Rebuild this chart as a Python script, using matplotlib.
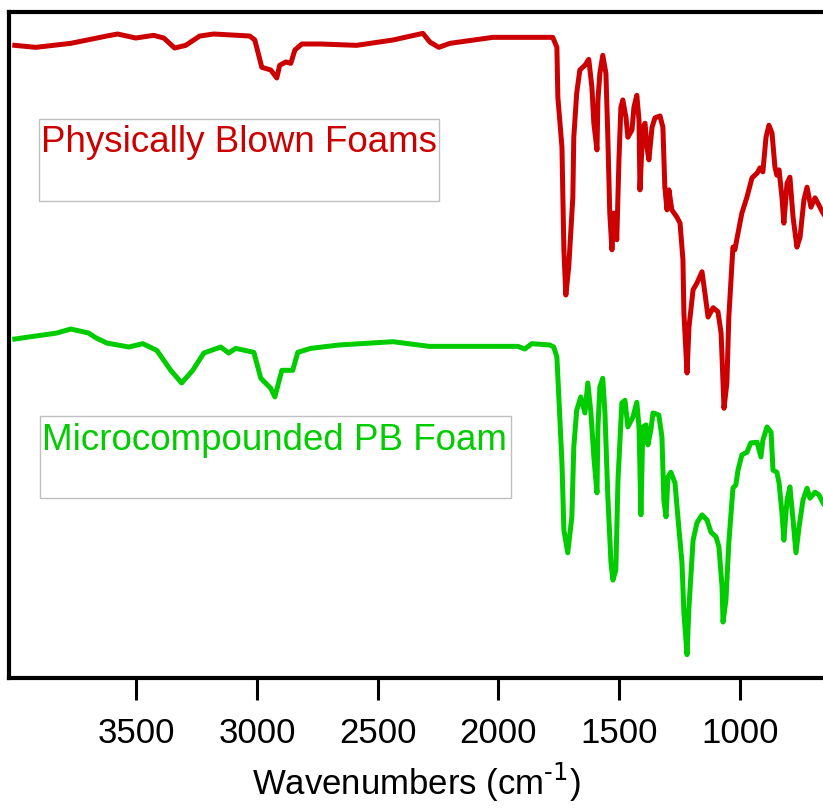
import matplotlib
matplotlib.use("Agg")
import matplotlib.pyplot as plt
from matplotlib.patches import Rectangle

plt.rcParams['font.family'] = ['Liberation Sans', 'DejaVu Sans']

# FTIR spectra, wavenumber (cm-1) vs transmittance (a.u., curves offset)
pb_wn = [4003, 3916, 3771, 3622, 3577, 3502, 3428, 3386, 3341, 3295, 3237, 3179,
         3030, 3009, 2980, 2943, 2918, 2906, 2881, 2860, 2843, 2814, 2736, 2587,
         2437, 2350, 2313, 2284, 2247, 2201, 2023, 1829, 1775, 1758, 1754, 1737,
         1733, 1729, 1721, 1709, 1692, 1688, 1676, 1663, 1642, 1626, 1613, 1605,
         1592, 1588, 1580, 1568, 1555, 1547, 1539, 1530, 1522, 1510, 1501, 1493,
         1485, 1472, 1464, 1447, 1439, 1427, 1418, 1414, 1402, 1393, 1385, 1377,
         1364, 1352, 1331, 1319, 1311, 1302, 1294, 1282, 1261, 1248, 1236, 1232,
         1219, 1211, 1194, 1178, 1157, 1145, 1132, 1111, 1091, 1078, 1070, 1066,
         1054, 1046, 1029, 1021, 1008, 992, 971, 950, 929, 917, 905, 892, 880, 867,
         855, 847, 838, 826, 818, 805, 793, 780, 764, 751, 735, 722, 706, 689, 677,
         656, 650]
pb_t = [95.0, 94.7, 95.3, 96.4, 96.7, 96.1, 96.5, 96.1, 94.6, 95.0, 96.4, 96.7,
        96.4, 95.8, 91.7, 91.3, 90.1, 92.0, 92.5, 92.3, 94.3, 95.2, 95.2, 95.0,
        95.8, 96.5, 96.8, 95.5, 94.7, 95.3, 96.2, 96.2, 96.2, 94.7, 87.2, 79.7,
        71.8, 64.3, 57.5, 61.7, 72.2, 81.2, 87.8, 91.3, 92.0, 92.9, 88.7, 83.3,
        79.3, 86.8, 90.8, 93.5, 90.8, 81.2, 69.8, 64.3, 69.8, 65.8, 77.8, 85.7,
        86.8, 84.2, 81.2, 82.3, 85.7, 87.5, 83.8, 73.3, 82.7, 83.3, 79.7, 77.8,
        82.7, 84.1, 84.4, 82.7, 73.7, 70.3, 73.3, 70.3, 69.2, 68.3, 62.8, 54.8,
        45.8, 52.7, 58.3, 59.3, 61.0, 57.8, 54.2, 55.6, 55.0, 51.8, 44.3, 40.5,
        44.3, 54.2, 64.7, 64.3, 66.8, 69.8, 72.2, 75.1, 75.8, 76.6, 76.0, 81.2,
        83.0, 81.8, 76.7, 75.5, 76.3, 72.2, 68.3, 74.3, 75.2, 69.2, 64.7, 66.2,
        71.8, 73.7, 70.7, 72.1, 71.3, 69.8, 69.5]

mc_wn = [4003, 3887, 3829, 3771, 3697, 3668, 3622, 3531, 3473, 3415, 3357, 3312,
         3266, 3220, 3150, 3117, 3088, 3013, 2984, 2943, 2926, 2897, 2852, 2831,
         2777, 2661, 2437, 2288, 1920, 1891, 1862, 1787, 1771, 1758, 1750, 1737,
         1729, 1713, 1696, 1688, 1676, 1659, 1642, 1630, 1617, 1605, 1592, 1588,
         1580, 1568, 1559, 1547, 1534, 1526, 1514, 1505, 1489, 1476, 1464, 1443,
         1427, 1418, 1410, 1402, 1389, 1381, 1369, 1360, 1336, 1323, 1315, 1306,
         1298, 1286, 1269, 1257, 1240, 1232, 1219, 1211, 1194, 1178, 1157, 1136,
         1120, 1099, 1087, 1074, 1070, 1058, 1046, 1029, 1017, 1008, 992, 971, 955,
         929, 913, 905, 888, 871, 863, 847, 838, 826, 818, 805, 793, 780, 768, 755,
         739, 722, 710, 689, 673, 656, 650]
mc_t = [50.9, 51.5, 51.8, 52.4, 51.8, 51.1, 50.3, 49.7, 50.2, 49.2, 46.2, 44.3,
        46.2, 48.8, 49.7, 48.8, 49.5, 48.9, 45.0, 43.5, 42.2, 46.2, 46.2, 48.9,
        49.5, 50.0, 50.5, 49.8, 49.8, 49.4, 50.2, 50.0, 49.7, 48.2, 42.2, 32.3,
        22.2, 18.8, 24.2, 34.7, 40.2, 42.2, 39.8, 44.3, 39.8, 33.2, 27.8, 37.7,
        43.7, 45.0, 39.8, 27.2, 17.3, 14.7, 16.2, 29.7, 41.3, 41.7, 37.7, 39.2,
        41.4, 37.7, 24.5, 37.7, 38.0, 35.0, 37.2, 39.8, 39.5, 36.2, 26.7, 24.2,
        30.2, 30.9, 29.3, 24.2, 17.3, 9.8, 3.5, 10.7, 20.7, 23.3, 24.5, 23.7,
        21.9, 21.2, 19.7, 13.7, 8.4, 11.7, 20.3, 28.5, 29.0, 31.2, 33.5, 33.9, 35.3,
        35.4, 33.2, 35.7, 37.7, 36.9, 31.2, 30.9, 29.3, 24.8, 20.7, 26.7, 28.7,
        23.7, 18.8, 22.7, 26.7, 28.5, 27.0, 27.9, 27.5, 26.3, 26.0]

xticks = [3500, 3000, 2500, 2000, 1500, 1000]
red = '#CC0000'
green = '#00CC00'

fig = plt.figure(figsize=(8.23, 8.08), dpi=100)
ax = fig.add_axes([0.0115, 0.1609, 0.9885, 0.8242])

ax.plot(pb_wn, pb_t, color=red, lw=3.6, solid_joinstyle='round')
ax.plot(mc_wn, mc_t, color=green, lw=3.6, solid_joinstyle='round')

ax.set_xlim(4025, 656)
ax.set_ylim(0, 100)
ax.set_xticks(xticks)
ax.set_yticks([])
ax.tick_params(axis='x', direction='out', length=16, width=2.2, pad=12, labelsize=25)
for s in ['left', 'top', 'bottom']:
    ax.spines[s].set_linewidth(3)
ax.spines['right'].set_visible(False)
ax.set_xlabel('Wavenumbers (cm$^{\\text{-1}}$)', fontsize=25, labelpad=8)

# labelled boxes for each sample
ax.add_patch(Rectangle((0.0363, 0.716), 0.492, 0.123, transform=ax.transAxes,
                       fill=False, edgecolor='#C0C0C0', lw=1))
ax.text(0.0385, 0.790, 'Physically Blown Foams', transform=ax.transAxes,
        color=red, fontsize=26.5, va='baseline', ha='left')
ax.add_patch(Rectangle((0.0375, 0.270), 0.579, 0.123, transform=ax.transAxes,
                       fill=False, edgecolor='#C0C0C0', lw=1))
ax.text(0.0395, 0.342, 'Microcompounded PB Foam', transform=ax.transAxes,
        color=green, fontsize=26.5, va='baseline', ha='left')

fig.savefig('out.png', dpi=100)
